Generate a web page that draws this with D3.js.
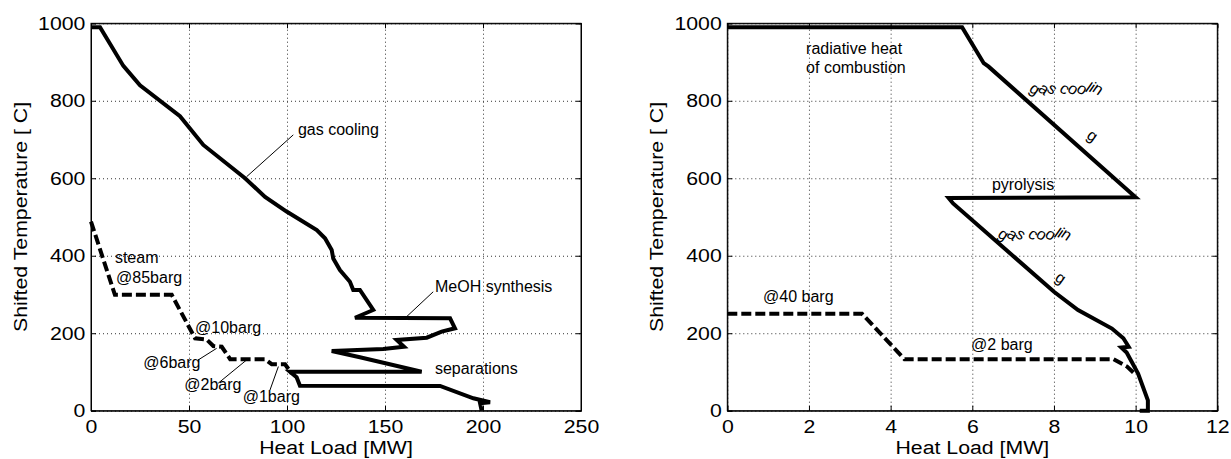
<!DOCTYPE html>
<html>
<head>
<meta charset="utf-8">
<script src="https://cdn.jsdelivr.net/npm/d3@7/dist/d3.min.js"></script>
<style>
body { margin: 0; background: #fff; }
text { font-family: Arial, "Liberation Sans", Helvetica, sans-serif; fill: #000; }
</style>
</head>
<body>
<div id="chart"></div>
<script>
// ticks
const yTicks = [0, 200, 400, 600, 800, 1000];
const leftXTicks = [0, 50, 100, 150, 200, 250];
const rightXTicks = [0, 2, 4, 6, 8, 10, 12];

// left panel, [heat load MW, shifted temperature C]
const leftHot = [
    [0, 990], [4.6, 990], [16.5, 890], [25, 840], [45.4, 760], [57.3, 686],
    [78.6, 600], [88.8, 552], [99.8, 514], [115.2, 466], [119.4, 445],
    [122.8, 415], [123.6, 393], [127, 363], [132.1, 333], [133.8, 311.6],
    [137.2, 311.6], [144, 260], [134.7, 240], [183.2, 238.5], [185.7, 212.7],
    [178.9, 204], [171.3, 188.4], [156, 182.5], [159.7, 165.2], [149.1, 159.3],
    [122.8, 154.1], [137.2, 137.8], [168.7, 100.7], [101.5, 100.7], [104.9, 86.2],
    [106.6, 64.5], [178.1, 63.8], [195.1, 32], [203.6, 21.7], [198.5, 19], [199.3, 0]
];
const leftSteam = [
    [0, 488], [12.2, 299], [41.2, 299], [53.1, 187], [59, 184], [62.4, 167],
    [66.7, 165], [71, 133], [88.8, 133], [92.2, 120], [99, 120], [102.4, 96]
];

// right panel
const rightHot = [
    [0, 990], [5.75, 990], [6.28, 897], [6.4, 888], [10.0, 551], [5.42, 549],
    [5.53, 535], [8.0, 307], [8.59, 260], [9.42, 212], [9.7, 187], [9.83, 165],
    [9.65, 163], [9.78, 150], [10.06, 96], [10.3, 27], [10.3, 0], [10.1, 0]
];
const rightSteam = [
    [0, 250], [3.3, 250], [4.34, 133], [9.46, 133], [9.79, 114], [9.97, 96]
];

// annotations [text, x, y] in data units
const leftNotes = [
    ["gas cooling", 105.6, 712], ["MeOH synthesis", 175.5, 306],
    ["separations", 175.5, 95], ["steam", 12.2, 380], ["@85barg", 12.8, 329],
    ["@10barg", 53.1, 200], ["@6barg", 26.7, 109], ["@2barg", 47.6, 53],
    ["@1barg", 77.4, 23]
];
const leftLeaders = [
    [[103.2, 712], [79.4, 604]], [[174.6, 307], [161.1, 243]],
    [[54.7, 131], [64.1, 161]], [[64.9, 71], [79.4, 131]], [[91.3, 53], [95.6, 114]]
];
const rightNotes = [
    ["radiative heat", 1.93, 922], ["of combustion", 1.93, 872],
    ["pyrolysis", 6.48, 570], ["@40 barg", 0.875, 281], ["@2 barg", 5.97, 157]
];
const rightTwisted = [
    ["gas coolin", 7.37, 826], ["g", 8.78, 705],
    ["gas coolin", 6.6, 450], ["g", 8.0, 338]
];

const W = 490, H = 387.4;

const svg = d3.select("#chart").append("svg")
    .attr("width", 1231)
    .attr("height", 459);

function drawPanel(left, xMax, xTicks, hot, steam, notes, leaders, twisted) {
    let g = svg.append("g").attr("transform", `translate(${left}, 23.3)`);

    let x = d3.scaleLinear().domain([0, xMax]).range([0, W]);
    let y = d3.scaleLinear().domain([0, 1000]).range([H, 0]);

    // dotted grid
    g.append("g")
        .attr("class", "grid")
        .attr("transform", `translate(0, ${H})`)
        .call(d3.axisBottom(x).tickValues(xTicks).tickSize(-H).tickFormat(""));
    g.append("g")
        .attr("class", "grid")
        .call(d3.axisLeft(y).tickValues(yTicks).tickSize(-W).tickFormat(""));
    g.selectAll(".grid .domain").remove();
    g.selectAll(".grid line")
        .attr("stroke", "#333")
        .attr("stroke-dasharray", "1,3");

    // box + inward ticks
    g.append("rect")
        .attr("width", W).attr("height", H)
        .attr("fill", "none").attr("stroke", "#000");

    let xAxis = g.append("g")
        .attr("transform", `translate(0, ${H})`)
        .call(d3.axisBottom(x).tickValues(xTicks).tickSize(-5).tickPadding(9)
            .tickFormat(d3.format("d")));
    let yAxis = g.append("g")
        .call(d3.axisLeft(y).tickValues(yTicks).tickSize(-5).tickPadding(5)
            .tickFormat(d3.format("d")));
    g.append("g")
        .call(d3.axisTop(x).tickValues(xTicks).tickSize(-5).tickFormat(""));
    g.append("g")
        .attr("transform", `translate(${W}, 0)`)
        .call(d3.axisRight(y).tickValues(yTicks).tickSize(-5).tickFormat(""));

    g.selectAll(".domain").attr("stroke", "#000");
    g.selectAll(".tick line").filter(function() { return !this.closest(".grid"); })
        .attr("stroke", "#000");

    [xAxis, yAxis].forEach(a => a.selectAll("text")
        .attr("font-size", "19px")
        .attr("font-family", "Arial, 'Liberation Sans', sans-serif")
        .attr("fill", "#000")
        .attr("transform", "scale(1.12,1)"));

    // axis titles
    g.append("text")
        .attr("text-anchor", "middle")
        .attr("font-size", "19px")
        .attr("transform", `translate(${W / 2}, ${H + 43}) scale(1.12,1)`)
        .text("Heat Load [MW]");
    g.append("text")
        .attr("text-anchor", "middle")
        .attr("font-size", "19px")
        .attr("transform", `translate(-64, ${H / 2}) rotate(-90) scale(1.12,1)`)
        .text("Shifted Temperature [  C]");

    let line = d3.line().x(d => x(d[0])).y(d => y(d[1]));

    g.append("path")
        .datum(steam)
        .attr("d", line)
        .attr("fill", "none")
        .attr("stroke", "#000")
        .attr("stroke-width", 4)
        .attr("stroke-dasharray", "10,4");

    g.append("path")
        .datum(hot)
        .attr("d", line)
        .attr("fill", "none")
        .attr("stroke", "#000")
        .attr("stroke-width", 4);

    g.selectAll("line.leader")
        .data(leaders)
        .enter()
        .append("line")
        .attr("class", "leader")
        .attr("x1", d => x(d[0][0])).attr("y1", d => y(d[0][1]))
        .attr("x2", d => x(d[1][0])).attr("y2", d => y(d[1][1]))
        .attr("stroke", "#000")
        .attr("stroke-width", 1);

    g.selectAll("text.note")
        .data(notes)
        .enter()
        .append("text")
        .attr("class", "note")
        .attr("font-size", "16px")
        .attr("x", d => x(d[1]))
        .attr("y", d => y(d[2]))
        .text(d => d[0]);

    // the garbled text-along-line labels
    g.selectAll("text.twist")
        .data(twisted)
        .enter()
        .append("text")
        .attr("class", "twist")
        .attr("font-size", "16px")
        .attr("x", d => x(d[1]))
        .attr("y", d => y(d[2]))
        .attr("rotate", 35)
        .text(d => d[0]);
}

drawPanel(91, 250, leftXTicks, leftHot, leftSteam, leftNotes, leftLeaders, []);
drawPanel(727.3, 12, rightXTicks, rightHot, rightSteam, rightNotes, [], rightTwisted);
</script>
</body>
</html>
